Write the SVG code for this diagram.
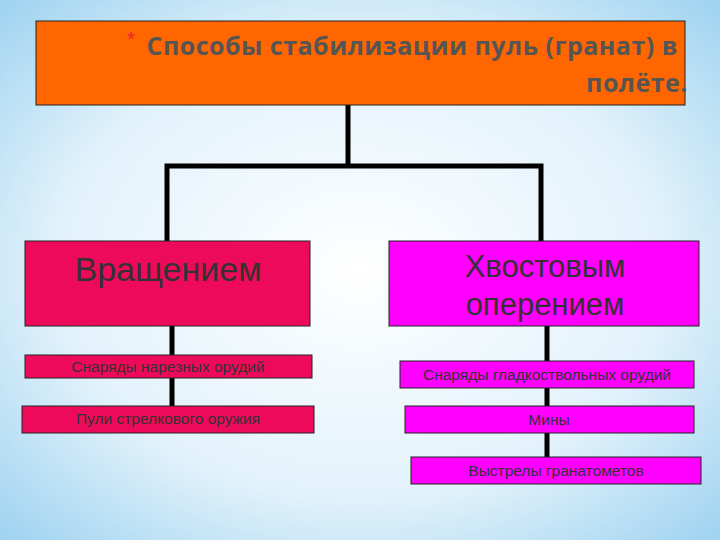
<svg xmlns="http://www.w3.org/2000/svg" width="720" height="540" viewBox="0 0 720 540">
<defs>
<radialGradient id="bg" cx="0.5" cy="0.5" r="0.7">
<stop offset="0" stop-color="#ffffff"/><stop offset="0.6" stop-color="#e2f2fb"/><stop offset="1" stop-color="#9fd3f0"/>
</radialGradient>
<style>
.ln{stroke:#000;stroke-width:5;fill:none}
.r{fill:#ee0a5a;stroke:#222;stroke-width:1}
.m{fill:#ff00ff;stroke:#222;stroke-width:1}
.t{font-family:"Liberation Sans",Arial,sans-serif;fill:#333;text-anchor:middle}
.s{font-size:15.5px}
</style>
</defs>
<rect width="720" height="540" fill="url(#bg)"/>
<g id="connectors">
<path class="ln" d="M348 105V167M167 241V166H541V241"/>
<path class="ln" d="M172 326V406M547 326V457"/>
</g>
<g id="title">
<rect x="36" y="21" width="649" height="84" fill="#ff6600" stroke="#222" stroke-width="1"/>
<text x="131" y="46" font-family="Liberation Sans,sans-serif" font-size="20" fill="#e23" text-anchor="middle">*</text>
<text x="678" y="55" font-family="'Open Sans','Noto Sans',sans-serif" font-weight="bold" font-size="25" fill="#555" text-anchor="end" letter-spacing="0.5">Способы стабилизации пуль (гранат) в</text>
<text x="688" y="92" font-family="'Open Sans','Noto Sans',sans-serif" font-weight="bold" font-size="25" fill="#555" text-anchor="end" letter-spacing="0.5">полёте.</text>
</g>
<g id="n1"><rect class="r" x="25" y="241" width="285" height="85"/><text class="t" x="168" y="281" font-size="34">Вращением</text></g>
<g id="n2"><rect class="m" x="389" y="241" width="310" height="85"/><text class="t" x="545" y="277" font-size="31">Хвостовым</text><text class="t" x="545" y="315" font-size="31">оперением</text></g>
<g id="n3"><rect class="r" x="25" y="355" width="287" height="23"/><text class="t s" x="168" y="372">Снаряды нарезных орудий</text></g>
<g id="n4"><rect class="r" x="22" y="406" width="292" height="27"/><text class="t s" x="168" y="424">Пули стрелкового оружия</text></g>
<g id="n5"><rect class="m" x="400" y="361" width="294" height="27"/><text class="t s" x="547" y="380">Снаряды гладкоствольных орудий</text></g>
<g id="n6"><rect class="m" x="405" y="406" width="289" height="27"/><text class="t s" x="549" y="425">Мины</text></g>
<g id="n7"><rect class="m" x="411" y="457" width="290" height="27"/><text class="t s" x="556" y="476">Выстрелы гранатометов</text></g>
</svg>
